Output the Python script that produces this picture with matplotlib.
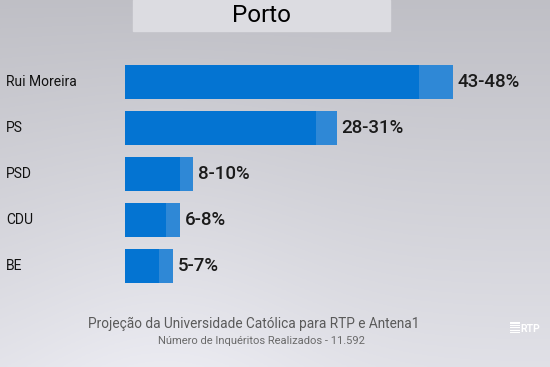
import numpy as np
import matplotlib.pyplot as plt
from matplotlib import transforms

plt.rcParams['font.family'] = ['Roboto', 'DejaVu Sans']

# dados
partidos = ['Rui Moreira', 'PS', 'PSD', 'CDU', 'BE']
minimo = [43, 28, 8, 6, 5]
maximo = [48, 31, 10, 8, 7]
rotulos = ['43-48%', '28-31%', '8-10%', '6-8%', '5-7%']

W, H = 550, 367
fig = plt.figure(figsize=(W / 100, H / 100), dpi=100)

# fundo cinzento em degradê
bg = fig.add_axes([0, 0, 1, 1])
yy, xx = np.mgrid[0:1:200j, 0:1:300j]
grad = 0.75 + 0.13 * yy + 0.04 * np.exp(-((xx - 0.3) ** 2) / 0.08) * yy
img = np.clip(np.dstack([grad, grad, grad + 0.025]), 0, 1)
bg.imshow(img, aspect='auto', extent=[0, 1, 0, 1], origin='upper')
bg.set_xlim(0, 1)
bg.set_ylim(0, 1)
bg.axis('off')

# caixa do título
bg.add_patch(plt.Rectangle((133 / W, 1 - 31 / H), (390 - 133) / W, 31 / H,
                           color='#dcdce1', zorder=2))
bg.text(261.5 / W, 1 - 16 / H, 'Porto', ha='center', va='center', fontsize=17.5,
        color='black', zorder=3)

# eixo das barras
px = 6.83  # pixels por ponto percentual
ax = fig.add_axes([125 / W, 1 - 289 / H, (W - 125) / W, 230 / H])
ax.set_xlim(0, (W - 125) / px)
ax.set_ylim(4.5, -0.5)
ax.axis('off')
ax.patch.set_alpha(0)

y = np.arange(len(partidos))
ax.barh(y, maximo, height=0.72, color='#2f88d6', zorder=2)
ax.barh(y, minimo, height=0.72, color='#0474d2', zorder=3)

tr = transforms.blended_transform_factory(fig.transFigure, ax.transData)
for i, (nome, hi, lab) in enumerate(zip(partidos, maximo, rotulos)):
    ax.text(6 / W, i, nome, transform=tr, ha='left', va='center',
            fontsize=10, color='#111111')
    ax.text(hi + 0.7, i, lab, ha='left', va='center', fontsize=13.5,
            fontweight='medium', color='#1a1a1a')

# rodapé
fig.text(254 / W, 1 - 324 / H, 'Projeção da Universidade Católica para RTP e Antena1',
         ha='center', va='center', fontsize=9.8, color='#5a5a5a')
fig.text(261 / W, 1 - 341 / H, 'Número de Inquéritos Realizados - 11.592',
         ha='center', va='center', fontsize=8, color='#6a6a6a')

# logótipo RTP
for k in range(5):
    bg.add_patch(plt.Rectangle((510 / W, 1 - (323.5 + k * 2.4) / H), 10 / W, 1.2 / H,
                               color='white', lw=0, zorder=3))
bg.text(520 / W, 1 - 328.5 / H, 'RTP', ha='left', va='center', fontsize=7.5,
        fontweight='bold', color='white', zorder=3)

fig.savefig('out.png', dpi=100)
